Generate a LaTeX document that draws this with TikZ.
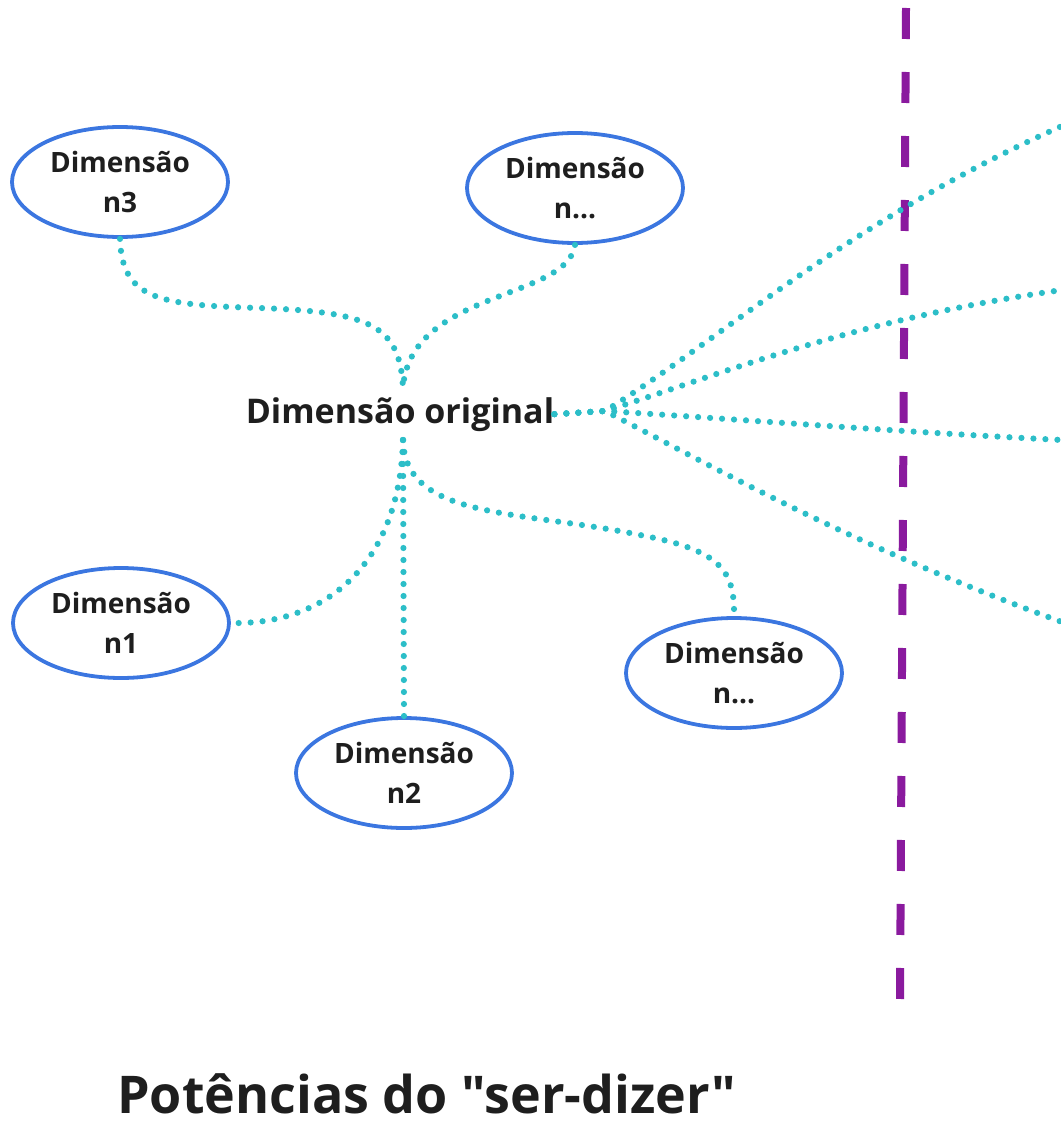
\documentclass[tikz,border=0pt]{standalone}
\usepackage{fontspec}
\setmainfont{Open Sans}[Ligatures=TeXOff]
\usetikzlibrary{shapes.geometric}
\definecolor{dimblue}{RGB}{59,118,224}
\definecolor{linkteal}{RGB}{44,190,200}
\definecolor{divpurple}{RGB}{138,26,158}
\definecolor{inkdark}{RGB}{30,30,30}
\begin{document}
\begin{tikzpicture}[x=1pt,y=-1pt,
  dim/.style={ellipse, draw=dimblue, line width=3.8pt, minimum width=216pt,
    minimum height=110pt, inner sep=0pt, align=center, text=inkdark,
    font=\fontsize{28}{40}\selectfont\bfseries},
  link/.style={draw=linkteal, line width=6.2pt, line cap=round,
    dash pattern=on 0pt off 12pt},
  divider/.style={draw=divpurple, line width=8pt, dash pattern=on 31pt off 33pt}]
\useasboundingbox (0,0) rectangle (1060,1123);

% vertical divider
\coordinate (divtop) at (906,8);
\coordinate (divbot) at (900,1000);
\draw[divider] (divtop) -- (divbot);

% central term
\node[font=\fontsize{34}{40}\selectfont\bfseries, text=inkdark, inner sep=0pt,
  anchor=base] (orig) at (400,423) {Dimensão original};

% dimensions
\node[dim] (n3)   at (120,182) {Dimensão\\n3};
\node[dim] (ntop) at (575,188) {Dimensão\\n...};
\node[dim] (n1)   at (121,623) {Dimensão\\n1};
\node[dim] (n2)   at (404,773) {Dimensão\\n2};
\node[dim] (nbot) at (734,673) {Dimensão\\n...};

% junction points around the central term
\coordinate (jtop) at (403,388);
\coordinate (jbot) at (403,440);
\coordinate (jright) at (605,411);

% loose ends of the right-hand fan
\coordinate (ra) at (1062,126);
\coordinate (rb) at (1062,290);
\coordinate (rc) at (1062,440);
\coordinate (rd) at (1062,622);

% upper links
\draw[link] (n3.south) .. controls (122,300) and (160,305) .. (260,308)
  .. controls (370,312) and (400,325) .. (jtop);
\draw[link] (ntop.south) .. controls (568,300) and (410,290) .. (jtop);

% lower links
\draw[link] (jbot) -- (n2.north);
\draw[link] (jbot) .. controls (400,560) and (330,625) .. (n1.east);
\draw[link] (jbot) .. controls (405,520) and (520,510) .. (640,535)
  .. controls (720,550) and (735,570) .. (nbot.north);

% right-hand fan
\draw[link] (orig.east) -- (jright) .. controls (720,340) and (850,220) .. (ra);
\draw[link] (orig.east) -- (jright) .. controls (720,375) and (850,320) .. (rb);
\draw[link] (orig.east) -- (jright) .. controls (750,420) and (900,432) .. (rc);
\draw[link] (orig.east) -- (jright) .. controls (720,470) and (850,545) .. (rd);

% caption
\node[anchor=base west, font=\fontsize{52}{56}\selectfont\bfseries, text=inkdark,
  inner sep=0pt, text depth=0pt] (title) at (117,1113) {Potências do "ser-dizer"};
\end{tikzpicture}
\end{document}
